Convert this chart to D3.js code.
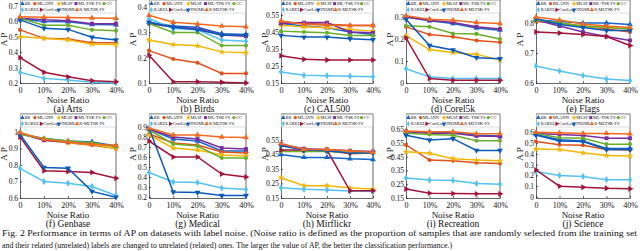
<!DOCTYPE html>
<html lang="en">
<head>
<meta charset="utf-8">
<script src="https://d3js.org/d3.v7.min.js"></script>
<style type="text/css">
body {
	margin: 0;
	background-color: #ffffff;
}
svg text {
	font-family: "Liberation Serif", "Times New Roman", serif;
	fill: #111;
}
.axis path { stroke: #262626; stroke-width: 0.7; }
.axis line { stroke: #262626; stroke-width: 0.7; }
.axis text { font-size: 8px; }
.y.axis text { font-size: 7.5px; }
</style>
</head>
<body>
<script type="text/javascript">

// noise levels (%) along the x axis
var noise = [0, 10, 20, 30, 40];
var xTickLabels = ["0", "10%", "20%", "30%", "40%"];

var methods = ["BR", "MLANN", "MLSF", "ML-TSK FS", "CC", "RAKEL", "CorrLog", "INOML", "R-MLTSK-FS"];

var titles = ["(a) Arts", "(b) Birds", "(c) CAL500", "(d) Corel5k", "(e) Flags",
              "(f) Genbase", "(g) Medical", "(h) Mirflickr", "(i) Recreation", "(j) Science"];

// AP values, one row per method (same order as methods)
var arts = [
  [0.615, 0.600, 0.598, 0.580, 0.578],
  [0.545, 0.490, 0.485, 0.462, 0.462],
  [0.500, 0.490, 0.480, 0.452, 0.450],
  [0.620, 0.610, 0.605, 0.585, 0.585],
  [0.620, 0.575, 0.575, 0.545, 0.540],
  [0.270, 0.230, 0.220, 0.205, 0.200],
  [0.365, 0.270, 0.240, 0.215, 0.208],
  [0.610, 0.555, 0.548, 0.497, 0.480],
  [0.630, 0.627, 0.625, 0.622, 0.620]
];
var birds = [
  [0.340, 0.325, 0.320, 0.295, 0.292],
  [0.228, 0.195, 0.180, 0.138, 0.138],
  [0.270, 0.252, 0.247, 0.223, 0.220],
  [0.335, 0.320, 0.315, 0.290, 0.285],
  [0.335, 0.300, 0.300, 0.248, 0.248],
  [0.355, 0.315, 0.310, 0.270, 0.265],
  [0.210, 0.105, 0.105, 0.103, 0.100],
  [0.340, 0.320, 0.310, 0.290, 0.290],
  [0.368, 0.340, 0.333, 0.325, 0.322]
];
var cal500 = [
  [0.500, 0.485, 0.475, 0.450, 0.435],
  [0.510, 0.500, 0.495, 0.490, 0.490],
  [0.490, 0.480, 0.475, 0.465, 0.455],
  [0.500, 0.505, 0.505, 0.450, 0.445],
  [0.455, 0.450, 0.445, 0.430, 0.430],
  [0.215, 0.195, 0.193, 0.190, 0.187],
  [0.310, 0.290, 0.285, 0.285, 0.285],
  [0.430, 0.420, 0.420, 0.410, 0.405],
  [0.515, 0.495, 0.490, 0.487, 0.487]
];
var corel5k = [
  [0.300, 0.283, 0.270, 0.250, 0.240],
  [0.255, 0.220, 0.210, 0.193, 0.185],
  [0.215, 0.152, 0.138, 0.130, 0.105],
  [0.300, 0.285, 0.275, 0.255, 0.245],
  [0.260, 0.255, 0.225, 0.223, 0.200],
  [0.065, 0.028, 0.020, 0.020, 0.020],
  [0.205, 0.020, 0.012, 0.012, 0.012],
  [0.290, 0.170, 0.150, 0.115, 0.110],
  [0.305, 0.290, 0.285, 0.275, 0.270]
];
var flags = [
  [0.810, 0.805, 0.800, 0.800, 0.795],
  [0.805, 0.800, 0.790, 0.780, 0.770],
  [0.810, 0.800, 0.790, 0.785, 0.780],
  [0.810, 0.790, 0.770, 0.755, 0.742],
  [0.810, 0.800, 0.790, 0.785, 0.780],
  [0.657, 0.640, 0.625, 0.613, 0.608],
  [0.770, 0.767, 0.762, 0.755, 0.725],
  [0.815, 0.795, 0.785, 0.775, 0.775],
  [0.820, 0.810, 0.797, 0.790, 0.785]
];
var genbase = [
  [0.990, 0.960, 0.945, 0.940, 0.915],
  [0.995, 0.950, 0.935, 0.920, 0.900],
  [0.995, 0.955, 0.935, 0.925, 0.900],
  [0.990, 0.950, 0.940, 0.930, 0.915],
  [0.985, 0.960, 0.945, 0.935, 0.910],
  [0.780, 0.700, 0.690, 0.670, 0.615],
  [0.970, 0.765, 0.760, 0.755, 0.720],
  [0.985, 0.785, 0.780, 0.640, 0.605],
  [0.995, 0.955, 0.940, 0.925, 0.920]
];
var medical = [
  [0.880, 0.780, 0.760, 0.660, 0.660],
  [0.830, 0.740, 0.720, 0.650, 0.640],
  [0.820, 0.690, 0.670, 0.620, 0.610],
  [0.880, 0.800, 0.780, 0.690, 0.680],
  [0.870, 0.730, 0.710, 0.590, 0.590],
  [0.445, 0.350, 0.345, 0.290, 0.275],
  [0.760, 0.600, 0.600, 0.430, 0.400],
  [0.890, 0.250, 0.245, 0.215, 0.215],
  [0.890, 0.820, 0.820, 0.800, 0.795]
];
var mirflickr = [
  [0.450, 0.430, 0.430, 0.420, 0.415],
  [0.520, 0.480, 0.475, 0.455, 0.460],
  [0.290, 0.235, 0.235, 0.220, 0.210],
  [0.520, 0.490, 0.485, 0.475, 0.470],
  [0.470, 0.470, 0.470, 0.465, 0.460],
  [0.220, 0.210, 0.205, 0.198, 0.195],
  [0.480, 0.480, 0.480, 0.200, 0.200],
  [0.510, 0.480, 0.475, 0.460, 0.460],
  [0.525, 0.485, 0.485, 0.475, 0.465]
];
var recreation = [
  [0.630, 0.625, 0.625, 0.605, 0.600],
  [0.535, 0.425, 0.420, 0.405, 0.400],
  [0.485, 0.475, 0.435, 0.425, 0.420],
  [0.630, 0.620, 0.620, 0.600, 0.595],
  [0.620, 0.610, 0.605, 0.565, 0.565],
  [0.295, 0.280, 0.277, 0.255, 0.250],
  [0.215, 0.185, 0.182, 0.180, 0.180],
  [0.605, 0.570, 0.580, 0.495, 0.495],
  [0.635, 0.630, 0.630, 0.615, 0.615]
];
var science = [
  [0.580, 0.530, 0.520, 0.450, 0.450],
  [0.515, 0.485, 0.480, 0.440, 0.435],
  [0.445, 0.440, 0.410, 0.385, 0.380],
  [0.590, 0.580, 0.570, 0.545, 0.545],
  [0.590, 0.550, 0.545, 0.490, 0.490],
  [0.235, 0.200, 0.190, 0.160, 0.160],
  [0.250, 0.100, 0.090, 0.080, 0.075],
  [0.575, 0.520, 0.515, 0.440, 0.440],
  [0.600, 0.595, 0.590, 0.590, 0.585]
];

// y axis limits and ticks of each panel
var yDomains = [[0.2, 0.739], [0.1, 0.428], [0.15, 0.638], [0, 0.377], [0.6, 0.877],
                [0.6, 1.109], [0.19, 1.03], [0.15, 0.729], [0.15, 0.759], [-0.01, 0.77]];
var yTicks = [
  [0.2, 0.3, 0.4, 0.5, 0.6, 0.7],
  [0.1, 0.2, 0.3, 0.4],
  [0.15, 0.25, 0.35, 0.45, 0.55],
  [0, 0.1, 0.2, 0.3],
  [0.6, 0.7, 0.8],
  [0.6, 0.7, 0.8, 0.9, 1],
  [0.2, 0.3, 0.4, 0.5, 0.6, 0.7, 0.8, 0.9],
  [0.15, 0.25, 0.35, 0.45, 0.55],
  [0.15, 0.25, 0.35, 0.45, 0.55, 0.65],
  [0, 0.1, 0.2, 0.3, 0.4, 0.5, 0.6]
];

var panels = [arts, birds, cal500, corel5k, flags, genbase, medical, mirflickr, recreation, science];

// styles per method
var colors = ["#1565c8", "#e0521c", "#f2b705", "#7b2c9e", "#6aaf2c",
              "#55c2f2", "#a3143a", "#0b5ab8", "#f26a21"];
var shapes = ["up", "circle", "star", "square", "circle", "diamond", "right", "down", "up"];

var width = 640, height = 251;

var svg = d3.select("body")
  .append("svg")
  .attr("width", width)
  .attr("height", height);

// plot box positions
var cols = [[20, 116], [149, 246], [281, 373], [406, 500], [536, 630]];
var rows = [[0, 83], [114, 198]];

function markerPath(shape, size) {
  var t = d3.symbolTriangle;
  if (shape == "circle") t = d3.symbolCircle;
  if (shape == "star") t = d3.symbolStar;
  if (shape == "square") t = d3.symbolSquare;
  if (shape == "diamond") t = d3.symbolDiamond;
  return d3.symbol().type(t).size(size)();
}
function markerRot(shape) {
  if (shape == "right") return 90;
  if (shape == "down") return 180;
  return 0;
}

panels.forEach(function(data, p) {
  var c = cols[p % 5], r = rows[Math.floor(p / 5)];
  var x = d3.scaleLinear().domain([0, 40]).range(c);
  var y = d3.scaleLinear().domain(yDomains[p]).range([r[1], r[0]]);

  var g = svg.append("g");

  g.append("rect")
    .attr("x", c[0]).attr("y", r[0])
    .attr("width", c[1] - c[0]).attr("height", r[1] - r[0])
    .attr("fill", "#fff");

  // axes
  g.append("g")
    .attr("class", "x axis")
    .attr("transform", "translate(0," + r[1] + ")")
    .call(d3.axisBottom(x).tickValues(noise).tickSizeInner(-2).tickSizeOuter(0).tickPadding(4)
      .tickFormat(function(d, i) { return xTickLabels[i]; }));

  g.append("g")
    .attr("class", "y axis")
    .attr("transform", "translate(" + c[0] + ",0)")
    .call(d3.axisLeft(y).tickValues(yTicks[p]).tickSizeInner(-2).tickSizeOuter(0).tickPadding(2)
      .tickFormat(function(d) { return String(Math.round(d * 100) / 100); }));

  // top and right border
  g.append("path")
    .attr("d", "M" + c[0] + "," + r[0] + "H" + c[1] + "V" + r[1])
    .attr("fill", "none")
    .attr("stroke", "#262626")
    .attr("stroke-width", 0.7);

  // lines
  var line = d3.line()
    .x(function(d, i) { return x(noise[i]); })
    .y(function(d) { return y(d); });

  data.forEach(function(series, m) {
    g.append("path")
      .datum(series)
      .attr("d", line)
      .attr("fill", "none")
      .attr("stroke", colors[m])
      .attr("stroke-width", 1.5);

    g.selectAll(null)
      .data(series)
      .enter()
      .append("path")
      .attr("d", markerPath(shapes[m], shapes[m] == "circle" ? 13 : 15))
      .attr("transform", function(d, i) {
        return "translate(" + x(noise[i]) + "," + y(d) + ") rotate(" + markerRot(shapes[m]) + ")";
      })
      .attr("fill", colors[m]);
  });

  // legend
  var lw = c[1] - c[0];
  var lg = g.append("g").attr("transform", "translate(" + c[0] + "," + r[0] + ")");
  lg.append("rect")
    .attr("x", 0.5).attr("y", 0.5)
    .attr("width", lw - 1).attr("height", 12.5)
    .attr("fill", "#fff")
    .attr("stroke", "#bbb")
    .attr("stroke-width", 0.5);
  var lx = [0.025, 0.155, 0.405, 0.583, 0.875, 0.025, 0.22, 0.405, 0.594];
  methods.forEach(function(name, m) {
    var ly = m < 5 ? 3.6 : 9.8;
    var px = lw * lx[m];
    lg.append("path")
      .attr("d", markerPath(shapes[m], 9))
      .attr("transform", "translate(" + px + "," + ly + ") rotate(" + markerRot(shapes[m]) + ")")
      .attr("fill", colors[m]);
    lg.append("text")
      .attr("x", px + 2.3)
      .attr("y", ly + 1.6)
      .style("font-size", "4.4px")
      .text(name);
  });

  // labels
  g.append("text")
    .attr("transform", "translate(" + (c[0] - 13) + "," + ((r[0] + r[1]) / 2 - 2) + ") rotate(-90)")
    .attr("text-anchor", "middle")
    .style("font-size", "9px")
    .text("A P");

  g.append("text")
    .attr("x", (c[0] + c[1]) / 2)
    .attr("y", r[1] + 19.5)
    .attr("text-anchor", "middle")
    .style("font-size", "9px")
    .text("Noise Ratio");

  g.append("text")
    .attr("x", (c[0] + c[1]) / 2)
    .attr("y", r[1] + 29)
    .attr("text-anchor", "middle")
    .style("font-size", "9.5px")
    .text(titles[p]);
});

// figure caption
svg.append("text")
  .attr("x", 2).attr("y", 236)
  .attr("textLength", 635)
  .attr("lengthAdjust", "spacingAndGlyphs")
  .style("font-size", "8.6px")
  .text("Fig. 2 Performance in terms of AP on datasets with label noise. (Noise ratio is defined as the proportion of samples that are randomly selected from the training set");

svg.append("text")
  .attr("x", 2).attr("y", 248)
  .attr("textLength", 450)
  .attr("lengthAdjust", "spacingAndGlyphs")
  .style("font-size", "8.6px")
  .text("and their related (unrelated) labels are changed to unrelated (related) ones. The larger the value of AP, the better the classification performance.)");

</script>
</body>
</html>
